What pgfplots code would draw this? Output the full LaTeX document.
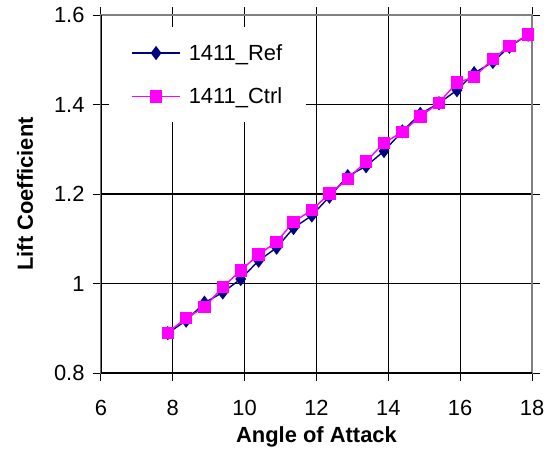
\documentclass[border=0pt]{standalone}
\usepackage{fontspec}
\setmainfont{Liberation Sans}
\usepackage{pgfplots}
\pgfplotsset{compat=1.18}

\definecolor{refblue}{RGB}{0,0,128}
\definecolor{ctrlpink}{RGB}{255,0,255}
\definecolor{framegray}{RGB}{128,128,128}

\pgfplotstableread{
aoa   cl
7.86  0.889
8.37  0.917
8.88  0.957
9.39  0.980
9.89  1.010
10.39 1.051
10.89 1.080
11.36 1.124
11.87 1.152
12.36 1.194
12.87 1.240
13.38 1.262
13.88 1.296
14.39 1.340
14.89 1.379
15.41 1.403
15.91 1.432
16.39 1.470
16.91 1.495
17.37 1.529
17.89 1.556
}\refdata

\pgfplotstableread{
aoa   cl
7.86  0.890
8.37  0.923
8.88  0.947
9.39  0.992
9.89  1.029
10.39 1.065
10.89 1.093
11.36 1.138
11.87 1.164
12.36 1.201
12.87 1.233
13.38 1.273
13.88 1.314
14.39 1.339
14.89 1.373
15.41 1.404
15.91 1.449
16.39 1.461
16.91 1.502
17.37 1.531
17.89 1.556
}\ctrldata

\begin{document}
\begin{tikzpicture}
\path[use as bounding box] (-101bp,-79bp) rectangle (457bp,373bp);
\begin{axis}[
  scale only axis,
  width=431bp, height=358bp,
  at={(0,0)}, anchor=south west,
  xmin=6, xmax=18, ymin=0.8, ymax=1.6,
  xtick={6,8,...,18},
  ytick={0.8,1,1.2,1.4,1.6},
  yticklabels={0.8,1,1.2,1.4,1.6},
  grid=major,
  major grid style={black, line width=1.1bp},
  axis line style={framegray, line width=1.4bp},
  tick align=center,
  major tick length=16bp,
  tick style={black, line width=1bp},
  /pgf/number format/assume math mode=true,
  tick label style={font=\fontsize{22}{25}\selectfont},
  xticklabel style={yshift=-16bp},
  yticklabel style={xshift=-5bp},
  label style={font=\fontsize{22}{26}\selectfont\bfseries},
  xlabel={Angle of Attack},
  ylabel={Lift Coefficient},
  xlabel style={at={(axis description cs:0.5,0)}, anchor=center, yshift=-64bp},
  ylabel style={at={(axis description cs:-0.176,0.5)}, anchor=center},
  legend style={at={(rel axis cs:0.019,0.966)}, anchor=north west,
    fill=white, draw=none, font=\fontsize{22}{25}\selectfont,
    inner xsep=22bp, inner ysep=15bp, row sep=22bp},
  legend cell align=left,
  legend image code/.code={
    \draw[mark repeat=2, mark phase=2, #1]
      plot coordinates {(0bp,0bp) (24bp,0bp) (48bp,0bp)};
    \path (54bp,0bp);},
]
\addplot[refblue, line width=1.4bp, mark=diamond*, mark size=6bp,
  mark options={fill=refblue, draw=refblue}] table[x=aoa, y=cl] {\refdata};
\addlegendentry{1411\_Ref}
\addplot[ctrlpink, line width=1.4bp, mark=square*, mark size=5.5bp,
  mark options={fill=ctrlpink, draw=ctrlpink}] table[x=aoa, y=cl] {\ctrldata};
\addlegendentry{1411\_Ctrl}
\draw[black, line width=1.4bp] (rel axis cs:0,1) -- (rel axis cs:0,0) -- (rel axis cs:1,0);
\end{axis}
\end{tikzpicture}
\end{document}
